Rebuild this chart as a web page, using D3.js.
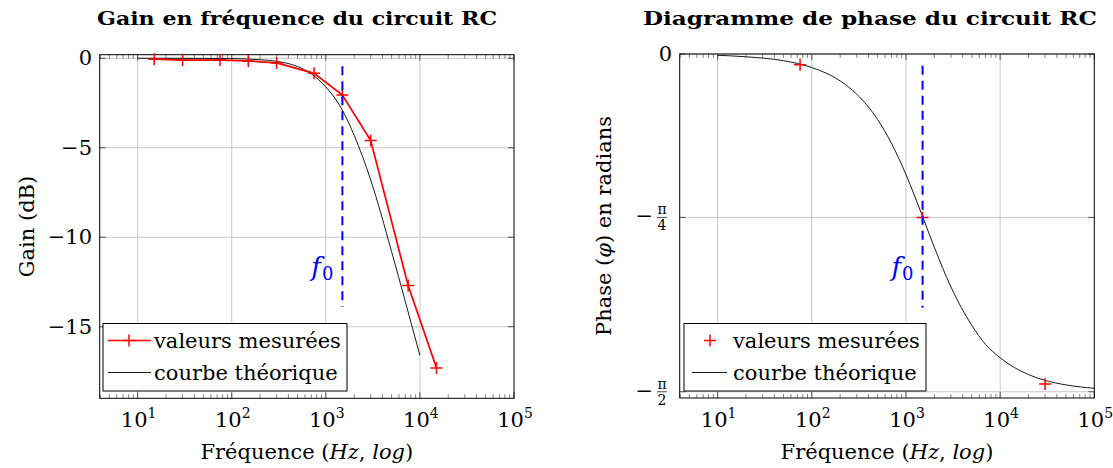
<!DOCTYPE html>
<html>
<head>
  <meta charset="utf-8">
  <title>Circuit RC - gain et phase</title>
  <script src="https://d3js.org/d3.v7.min.js"></script>
  <style>
    body { margin: 0; background: #fff; }
  </style>
</head>
<body>
<svg width="1113" height="468" font-family="DejaVu Serif, serif"></svg>
<script>
  // frequency axis (shared)
  const freqDomain = [3.95, 100000];
  const freqTicks = [10, 100, 1000, 10000, 100000];
  const freqTickExp = ["1", "2", "3", "4", "5"];

  // gain plot
  const gainDomain = [-19, 0.2];
  const gainTicks = [0, -5, -10, -15];
  const gainTickLabels = ["0", "\u22125", "\u221210", "\u221215"];
  const measFreqGain = [15, 30, 75, 150, 300, 750, 1500, 3000, 7500, 15000];
  const measGain = [-0.05, -0.1, -0.1, -0.15, -0.26, -0.84, -2.05, -4.6, -12.7, -17.3];
  const theoFreqGain = [10, 20, 50, 100, 200, 300, 500, 700, 1000, 1500, 2000, 3000, 5000, 7000, 10000];
  const theoGain = [0, 0, -0.01, -0.02, -0.08, -0.17, -0.46, -0.87, -1.6, -2.9, -4.3, -6.8, -10.8, -13.6, -16.6];

  // phase plot
  const phaseDomain = [-1.6, 0];
  const phaseTicks = [0, -0.76, -1.571];
  const phaseTickDen = [null, "4", "2"];
  const measFreqPhase = [75, 1500, 30000];
  const measPhase = [-0.05, -0.76, -1.535];
  const theoFreqPhase = [10, 20, 50, 100, 200, 300, 500, 700, 1000, 1500, 2000, 3000, 5000, 7000, 10000, 20000, 30000, 50000, 100000];
  const theoPhase = [-0.006, -0.013, -0.031, -0.063, -0.125, -0.187, -0.305, -0.415, -0.561, -0.756, -0.899, -1.083, -1.262, -1.351, -1.413, -1.491, -1.518, -1.539, -1.555];

  // cut-off frequency marker
  const f0 = 1500;
  const f0GainSpan = [-0.45, -13.9];
  const f0PhaseSpan = [-0.055, -1.18];

  const svg = d3.select("svg");
  const FS = "21px";

  function panel(o) {
    const x = d3.scaleLog().domain(freqDomain).range([o.left, o.right]);
    const y = d3.scaleLinear().domain(o.yDomain).range([o.bottom, o.top]);
    const g = svg.append("g");

    // grid
    g.selectAll(null).data(freqTicks.filter(v => v < freqDomain[1])).enter().append("line")
      .attr("x1", d => x(d)).attr("x2", d => x(d)).attr("y1", o.top).attr("y2", o.bottom)
      .attr("stroke", "#c8c8c8").attr("stroke-width", 1);
    g.selectAll(null).data(o.yTicks).enter().append("line")
      .attr("x1", o.left).attr("x2", o.right).attr("y1", d => y(d)).attr("y2", d => y(d))
      .attr("stroke", "#c8c8c8").attr("stroke-width", 1);

    // minor log ticks (top and bottom, inward)
    const minor = [];
    for (let e = 0; e <= 4; e++) for (let k = 2; k <= 9; k++) {
      const v = k * Math.pow(10, e);
      if (v > freqDomain[0] && v < freqDomain[1]) minor.push(v);
    }
    [[o.bottom, -1], [o.top, 1]].forEach(([yy, s]) => {
      g.selectAll(null).data(minor).enter().append("line")
        .attr("x1", d => x(d)).attr("x2", d => x(d)).attr("y1", yy).attr("y2", yy + s * 4)
        .attr("stroke", "#666").attr("stroke-width", 0.8);
      g.selectAll(null).data(freqTicks).enter().append("line")
        .attr("x1", d => x(d)).attr("x2", d => x(d)).attr("y1", yy).attr("y2", yy + s * 6)
        .attr("stroke", "#444").attr("stroke-width", 0.9);
    });
    [[o.left, 1], [o.right, -1]].forEach(([xx, s]) => {
      g.selectAll(null).data(o.yTicks).enter().append("line")
        .attr("x1", xx).attr("x2", xx + s * 6).attr("y1", d => y(d)).attr("y2", d => y(d))
        .attr("stroke", "#444").attr("stroke-width", 0.9);
    });

    // frame
    g.append("rect").attr("x", o.left).attr("y", o.top)
      .attr("width", o.right - o.left).attr("height", o.bottom - o.top)
      .attr("fill", "none").attr("stroke", "#000").attr("stroke-width", 1);

    // x tick labels 10^n
    const xl = g.selectAll(null).data(freqTicks).enter().append("text")
      .attr("x", d => x(d) + 1).attr("y", o.bottom + 29)
      .attr("text-anchor", "middle").style("font-size", FS);
    xl.append("tspan").text("10");
    xl.append("tspan").attr("dy", -9).style("font-size", "14px").text((d, i) => freqTickExp[i]);

    // x label
    const xt = g.append("text").attr("x", (o.left + o.right) / 2).attr("y", o.bottom + 61)
      .attr("text-anchor", "middle").style("font-size", FS);
    xt.append("tspan").text("Fréquence (");
    xt.append("tspan").style("font-style", "italic").text("Hz");
    xt.append("tspan").text(", ");
    xt.append("tspan").style("font-style", "italic").text("log");
    xt.append("tspan").text(")");

    // title
    g.append("text").attr("x", o.titleX).attr("y", 25)
      .attr("textLength", o.titleW).attr("lengthAdjust", "spacingAndGlyphs")
      .style("font-size", "19px").style("font-weight", "bold").text(o.title);

    // y label
    const yl = g.append("text").attr("transform", `translate(${o.yLabelX},${(o.top + o.bottom) / 2}) rotate(-90)`)
      .attr("text-anchor", "middle").style("font-size", FS);
    o.yLabel.forEach(([s, it]) => yl.append("tspan").style("font-style", it ? "italic" : "normal").text(s));

    return { g, x, y };
  }

  // ---------- left: gain ----------
  const L = panel({
    left: 99.7, right: 514, top: 54.7, bottom: 398.3, yDomain: gainDomain, yTicks: gainTicks,
    title: "Gain en fréquence du circuit RC", titleX: 97, titleW: 400,
    yLabel: [["Gain (dB)", false]], yLabelX: 34
  });
  L.g.selectAll(null).data(gainTicks).enter().append("text")
    .attr("x", 92).attr("y", d => L.y(d) + 7).attr("text-anchor", "end")
    .style("font-size", FS).text((d, i) => gainTickLabels[i]);

  L.g.append("path").datum(theoFreqGain.map((f, i) => [f, theoGain[i]]))
    .attr("d", d3.line().x(d => L.x(d[0])).y(d => L.y(d[1])).curve(d3.curveMonotoneX))
    .attr("fill", "none").attr("stroke", "#000").attr("stroke-width", 0.9);
  L.g.append("path").datum(measFreqGain.map((f, i) => [f, measGain[i]]))
    .attr("d", d3.line().x(d => L.x(d[0])).y(d => L.y(d[1]))).attr("fill", "none")
    .attr("stroke", "#f00").attr("stroke-width", 1.7);

  // ---------- right: phase ----------
  const R = panel({
    left: 679.7, right: 1094.3, top: 54, bottom: 398, yDomain: phaseDomain, yTicks: phaseTicks,
    title: "Diagramme de phase du circuit RC", titleX: 643, titleW: 454,
    yLabel: [["Phase (", false], ["\u03c6", true], [") en radians", false]], yLabelX: 611
  });
  phaseTicks.forEach((t, i) => {
    const yy = R.y(t);
    if (phaseTickDen[i] === null) {
      R.g.append("text").attr("x", 672).attr("y", yy + 7).attr("text-anchor", "end")
        .style("font-size", FS).text("0");
    } else {
      R.g.append("text").attr("x", 653).attr("y", yy + 6).attr("text-anchor", "end")
        .style("font-size", FS).text("\u2212");
      R.g.append("text").attr("x", 662).attr("y", yy - 3).attr("text-anchor", "middle")
        .style("font-size", "14px").text("\u03c0");
      R.g.append("line").attr("x1", 657).attr("x2", 667).attr("y1", yy).attr("y2", yy)
        .attr("stroke", "#000").attr("stroke-width", 0.7);
      R.g.append("text").attr("x", 662).attr("y", yy + 13).attr("text-anchor", "middle")
        .style("font-size", "14px").text(phaseTickDen[i]);
    }
  });
  R.g.append("path").datum(theoFreqPhase.map((f, i) => [f, theoPhase[i]]))
    .attr("d", d3.line().x(d => R.x(d[0])).y(d => R.y(d[1])).curve(d3.curveMonotoneX))
    .attr("fill", "none").attr("stroke", "#000").attr("stroke-width", 0.9);

  // ---------- markers, f0 line, legend ----------
  function plus(g, cx, cy) {
    g.append("path").attr("d", `M${cx - 6},${cy}H${cx + 6}M${cx},${cy - 6}V${cy + 6}`)
      .attr("stroke", "#f00").attr("stroke-width", 1.5).attr("fill", "none");
  }
  measFreqGain.forEach((f, i) => plus(L.g, L.x(f), L.y(measGain[i])));
  measFreqPhase.forEach((f, i) => plus(R.g, R.x(f), R.y(measPhase[i])));

  [[L, f0GainSpan], [R, f0PhaseSpan]].forEach(([P, span]) => {
    P.g.append("line").attr("x1", P.x(f0)).attr("x2", P.x(f0))
      .attr("y1", P.y(span[0])).attr("y2", P.y(span[1]))
      .attr("stroke", "#00f").attr("stroke-width", 2).attr("stroke-dasharray", "9,6");
  });
  function f0Label(P, yy) {
    const t = P.g.append("text").attr("x", P.x(f0) - 9).attr("y", yy).attr("text-anchor", "end")
      .style("fill", "#00f");
    t.append("tspan").style("font-size", "26px").style("font-style", "italic").text("f");
    t.append("tspan").attr("dy", 4).attr("dx", 1).style("font-size", "18px").text("0");
  }
  f0Label(L, 276);
  f0Label(R, 276);

  function legend(P, bx, bw, withLine) {
    const by = 323.5, bh = 67.5;
    P.g.append("rect").attr("x", bx).attr("y", by).attr("width", bw).attr("height", bh)
      .attr("fill", "#fff").attr("stroke", "#000").attr("stroke-width", 1);
    const r1 = by + 17, r2 = by + 49;
    if (withLine) {
      P.g.append("line").attr("x1", bx + 5).attr("x2", bx + 48).attr("y1", r1).attr("y2", r1)
        .attr("stroke", "#f00").attr("stroke-width", 1.7);
    }
    plus(P.g, bx + 26, r1);
    P.g.append("line").attr("x1", bx + (withLine ? 5 : 8)).attr("x2", bx + (withLine ? 48 : 43))
      .attr("y1", r2).attr("y2", r2).attr("stroke", "#000").attr("stroke-width", 0.9);
    P.g.append("text").attr("x", bx + (withLine ? 51 : 49)).attr("y", r1 + 7)
      .style("font-size", FS).text("valeurs mesurées");
    P.g.append("text").attr("x", bx + (withLine ? 51 : 49)).attr("y", r2 + 7)
      .style("font-size", FS).text("courbe théorique");
  }
  legend(L, 103, 244, true);
  legend(R, 684, 242, false);
</script>
</body>
</html>
